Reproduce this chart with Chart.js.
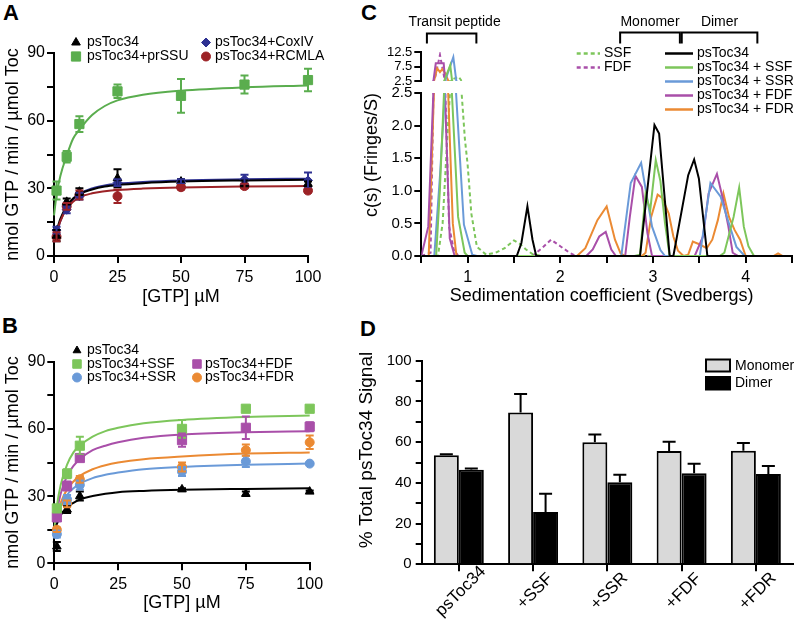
<!DOCTYPE html>
<html><head><meta charset="utf-8">
<script src="https://cdn.jsdelivr.net/npm/chart.js@4.4.1/dist/chart.umd.min.js"></script>
<style>
html,body{margin:0;padding:0;background:#fff;}
body{width:797px;height:633px;position:relative;overflow:hidden;font-family:"Liberation Sans",Arial,sans-serif;}
canvas{position:absolute;display:block;}
.pl{position:absolute;font-weight:bold;font-size:22px;line-height:22px;color:#000;}
</style></head><body>
<div class="pl" style="left:3px;top:2px">A</div>
<div class="pl" style="left:2px;top:315px">B</div>
<div class="pl" style="left:361px;top:2px">C</div>
<div class="pl" style="left:360px;top:318px">D</div>
<canvas id="cA" width="330" height="312" style="left:0;top:0"></canvas>
<canvas id="cB" width="330" height="318" style="left:0;top:300px"></canvas>
<canvas id="cClo" width="437" height="312" style="left:360px;top:0"></canvas>
<canvas id="cCup" width="437" height="120" style="left:360px;top:0"></canvas>
<canvas id="cD" width="442" height="313" style="left:355px;top:320px"></canvas>
<script>
// ---------------- DATA ----------------
// Panels A & B: GTP concentrations (µM) of measured points and of read fit-curve points
const gtpA = [1, 5, 10, 25, 50, 75, 100];
const gtpB = [1, 5, 10, 50, 75, 100];
const fitX = [0, 1, 2.5, 5, 7.5, 10, 15, 20, 25, 35, 50, 75, 100];

// Panel A
const A_toc34 = [9, 24, 28.5, 34.5, 33, 32, 32];
const A_toc34Err = [2.5, 1.5, 1.5, 4, 1, 1.5, 1];
const A_prSSU = [29, 44, 58.5, 73, 71, 76, 78];
const A_prSSUErr = [4, 2.5, 3.5, 3, 7.5, 4, 5];
const A_coxIV = [11.5, 20.5, 26.5, 32.5, 33, 34, 33.5];
const A_coxIVErr = [1.5, 1.5, 1.5, 1.5, 1, 2, 3.5];
const A_rcmla = [8.5, 22, 27, 26.5, 30.5, 31, 29];
const A_rcmlaErr = [2, 1.5, 2, 3, 1, 1, 0.8];
const A_toc34Fit = [7, 11, 16.5, 22, 25.5, 27.5, 29.5, 30.8, 31.5, 32.3, 33, 33.5, 33.8];
const A_prSSUFit = [18, 27, 35.5, 44.5, 52, 56, 62.5, 66.5, 69, 71.5, 73.3, 74.8, 75.6];
const A_coxIVFit = [6, 10, 15.5, 21.5, 25, 27.5, 30, 31.3, 32, 32.8, 33.5, 34, 34.3];
const A_rcmlaFit = [6, 10, 15.5, 21, 24, 26, 27.8, 28.7, 29.3, 29.9, 30.4, 30.8, 31];

// Panel B
const B_toc34 = [7.5, 24, 30, 33, 31, 32];
const B_toc34Err = [2, 1.5, 2, 0.5, 1, 0.5];
const B_ssf = [24.5, 40, 52.5, 60, 69, 69];
const B_ssfErr = [1.5, 2, 4, 4, 0.5, 0.5];
const B_ssr = [13, 28.5, 35, 41, 45.5, 44.5];
const B_ssrErr = [1.5, 2, 2, 2, 2.5, 0.5];
const B_fdf = [20.5, 34.5, 47, 55, 60.5, 61];
const B_fdfErr = [1, 2, 1, 3, 5, 2];
const B_fdr = [15, 26.5, 37.5, 43, 50.5, 54];
const B_fdrErr = [1, 1.5, 1.5, 2, 2.5, 3];
const B_toc34Fit = [14, 17.5, 21.5, 25, 27, 28.5, 30, 31, 31.7, 32.3, 32.8, 33.2, 33.5];
const B_ssfFit = [15, 25.5, 35, 44, 49.5, 52.5, 56.5, 59, 60.5, 62.5, 64, 65.3, 66];
const B_ssrFit = [15, 20, 25.3, 30.5, 33.5, 35.5, 38, 39.5, 40.5, 42, 43, 44, 44.5];
const B_fdfFit = [15, 23, 31, 39, 43.5, 46.5, 50.5, 52.5, 54, 56, 57.5, 58.5, 59];
const B_fdrFit = [15, 21, 27, 33, 36.5, 39, 42, 43.8, 45, 46.5, 47.7, 49, 49.5];

// Panel C: c(s) distributions, s in Svedbergs
const C_ssfS = [0.5, 0.68, 0.73, 0.78, 0.83, 0.9, 0.93, 0.97, 1.0, 1.04, 1.1, 1.2, 1.3, 1.4, 1.5, 1.57, 1.63, 1.7, 1.8, 4.5];
const C_ssfC = [0, 0, 0.5, 1.8, 3.0, 4.0, 2.6, 1.8, 1.4, 0.65, 0.14, 0.02, 0.05, 0.12, 0.24, 0.18, 0.1, 0.03, 0, 0];
const C_fdfS = [0.5, 0.6, 0.65, 0.7, 0.75, 0.8, 0.85, 0.9, 1.7, 1.8, 1.9, 2.0, 2.1, 2.17, 4.5];
const C_fdfC = [0, 0.05, 4, 11.5, 3, 0.45, 0.1, 0, 0, 0.12, 0.25, 0.15, 0.05, 0, 0];
const C_tocS = [0.5, 1.53, 1.58, 1.645, 1.7, 1.74, 2.86, 3.016, 3.066, 3.18, 3.22, 3.38, 3.444, 3.495, 3.587, 4.5];
const C_tocC = [0, 0, 0.2, 0.76, 0.25, 0, 0, 2.01, 1.88, 0, 0, 1.24, 1.48, 1.19, 0, 0];
const C_tocSsfS = [0.5, 0.66, 0.7, 0.745, 0.81, 0.83, 0.897, 0.968, 1.0, 2.8, 2.86, 2.92, 2.97, 3.03, 3.08, 3.13, 3.18, 3.72, 3.77, 3.87, 3.93, 3.98, 4.03, 4.09, 4.5];
const C_tocSsfC = [0, 0, 1.0, 2.5, 8.0, 2.5, 0.6, 0.05, 0, 0, 0.02, 0.95, 0.7, 1.47, 1.15, 0.5, 0, 0, 0.05, 0.6, 1.05, 0.45, 0.15, 0, 0];
const C_tocSsrS = [0.5, 0.64, 0.7, 0.755, 0.843, 0.875, 0.96, 1.05, 1.1, 2.658, 2.76, 2.872, 2.99, 3.08, 3.13, 3.505, 3.62, 3.73, 3.83, 3.9, 3.99, 4.5];
const C_tocSsrC = [0, 0, 1.2, 2.5, 10.7, 2.5, 0.48, 0.02, 0, 0, 1.12, 1.43, 0.45, 0.09, 0, 0, 1.12, 0.91, 0.45, 0.14, 0, 0];
const C_tocFdfS = [0.5, 0.575, 0.63, 0.655, 0.74, 0.755, 0.807, 0.86, 2.28, 2.35, 2.42, 2.49, 2.55, 2.6, 2.7, 2.75, 2.81, 2.88, 2.94, 2.99, 3.45, 3.54, 3.6, 3.69, 3.75, 3.81, 3.86, 3.92, 4.5];
const C_tocFdfC = [0, 0.45, 2.5, 8.6, 8.6, 2.5, 0.27, 0, 0, 0.1, 0.3, 0.37, 0.1, 0, 0, 0.6, 1.23, 1.06, 0.35, 0, 0, 0.3, 0.96, 1.26, 0.9, 0.48, 0.05, 0, 0];
const C_tocFdrS = [0.5, 0.58, 0.636, 0.67, 0.7, 0.725, 0.76, 0.79, 0.84, 0.88, 2.18, 2.27, 2.4, 2.5, 2.59, 2.65, 2.7, 2.88, 2.92, 2.98, 3.05, 3.1, 3.17, 3.22, 3.27, 3.33, 3.38, 3.43, 3.5, 3.58, 3.64, 3.7, 3.76, 3.82, 3.88, 3.94, 4.0, 4.3, 4.35, 4.4, 4.5];
const C_tocFdrC = [0, 0, 2.5, 6.9, 5.6, 6.6, 5.0, 2.5, 0.5, 0, 0, 0.12, 0.55, 0.76, 0.25, 0.04, 0, 0, 0.05, 0.6, 0.94, 0.89, 0.65, 0.3, 0.08, 0, 0.02, 0.22, 0.18, 0.12, 0.25, 0.55, 0.96, 0.6, 0.4, 0.25, 0, 0, 0.04, 0, 0];
const C_brackets = [[0.56, 1.09], [2.63, 3.27], [3.29, 4.1]];
const C_bracketLabels = ['Transit peptide', 'Monomer', 'Dimer'];

// Panel D
const D_cats = ['psToc34', '+SSF', '+SSR', '+FDF', '+FDR'];
const D_mono = [53.5, 74.6, 59.9, 55.6, 55.8];
const D_monoErr = [0.5, 9, 3.8, 4.6, 3.8];
const D_dimer = [46.5, 25.7, 40.3, 44.7, 44.4];
const D_dimerErr = [0.5, 9, 3.7, 4.7, 3.9];

// ---------------- STYLE / HELPERS ----------------
const FONT = '"Liberation Sans", Arial, sans-serif';
Chart.defaults.font.family = FONT;
Chart.defaults.color = '#000';
Chart.defaults.animation = false;

const col = {
  black: '#000000',
  aGreen: '#5aad4e', aBlue: '#2e3192', aRed: '#9c2226',
  green: '#7dc65b', blue: '#6a9ad8', purple: '#a94fa9', orange: '#eb8a33'
};

function xy(xs, ys) { return xs.map((x, i) => ({x: x, y: ys[i]})); }
function curveDs(xs, ys, color) {
  return {data: xy(xs, ys), showLine: true, borderColor: color, borderWidth: 2, pointRadius: 0,
          cubicInterpolationMode: 'monotone', fill: false, order: 2, clip: false};
}
function ptsDs(xs, ys, err, color, style, r) {
  return {data: xy(xs, ys), err: err, showLine: false, borderColor: color, backgroundColor: color,
          pointBackgroundColor: color, pointBorderColor: color, pointStyle: style, pointRadius: r,
          pointBorderWidth: 1, order: 1, clip: false, capHalf: 4};
}
function sDs(xs, ys, color, dash) {
  return {data: xy(xs, ys), showLine: true, borderColor: color, borderWidth: 2, pointRadius: 0,
          tension: 0, borderDash: dash || [], fill: false};
}
function linAxis(o) {
  return Object.assign({
    type: 'linear',
    grid: {drawOnChartArea: false, color: '#000', lineWidth: 2, tickLength: 7},
    border: {display: true, color: '#000', width: 2}
  }, o);
}

const errPlugin = {
  id: 'errbars',
  afterDatasetsDraw(chart) {
    const ctx = chart.ctx;
    chart.data.datasets.forEach((ds, i) => {
      if (!ds.err) return;
      const meta = chart.getDatasetMeta(i);
      const ys = chart.scales[meta.yAxisID];
      ctx.save();
      ctx.strokeStyle = ds.borderColor;
      ctx.lineWidth = 2;
      meta.data.forEach((el, j) => {
        const raw = ds.data[j];
        const v = (typeof raw === 'object') ? raw.y : raw;
        const e = ds.err[j];
        const top = ys.getPixelForValue(v + e);
        const bot = ds.errUpOnly ? ys.getPixelForValue(v) : ys.getPixelForValue(v - e);
        const cw = ds.capHalf || 4;
        ctx.beginPath();
        ctx.moveTo(el.x, bot); ctx.lineTo(el.x, top);
        ctx.moveTo(el.x - cw, top); ctx.lineTo(el.x + cw, top);
        if (!ds.errUpOnly) { ctx.moveTo(el.x - cw, bot); ctx.lineTo(el.x + cw, bot); }
        ctx.stroke();
      });
      ctx.restore();
    });
  }
};

function text(ctx, t, x, y, size, align, rot, weight) {
  ctx.save();
  ctx.font = (weight || '') + ' ' + size + 'px ' + FONT;
  ctx.fillStyle = '#000';
  ctx.textAlign = align || 'left';
  ctx.textBaseline = 'middle';
  ctx.translate(x, y);
  if (rot) ctx.rotate(rot);
  ctx.fillText(t, 0, 0);
  ctx.restore();
}
function marker(ctx, style, r, color, x, y) {
  ctx.save();
  ctx.fillStyle = color; ctx.strokeStyle = color; ctx.lineWidth = 1;
  Chart.helpers.drawPoint(ctx, {pointStyle: style, radius: r, rotation: 0, borderWidth: 1}, x, y);
  ctx.restore();
}
function legendPlugin(items) {
  return {id: 'lg', afterDraw(chart) {
    const ctx = chart.ctx;
    items.forEach(it => {
      if (it.marker) marker(ctx, it.marker, it.r, it.color, it.mx, it.y);
      if (it.line) {
        ctx.save(); ctx.strokeStyle = it.color; ctx.lineWidth = 2.5; ctx.setLineDash(it.dash || []);
        ctx.beginPath(); ctx.moveTo(it.line[0], it.y); ctx.lineTo(it.line[1], it.y); ctx.stroke(); ctx.restore();
      }
      text(ctx, it.text, it.tx, it.y, 14);
    });
  }};
}

function kineticOptions(padTop, padRight, xH, yW) {
  return {
    responsive: false, animation: false, events: [],
    layout: {padding: {top: padTop, right: padRight, left: 0, bottom: 0}},
    plugins: {legend: {display: false}, tooltip: {enabled: false}},
    scales: {
      x: linAxis({min: 0, max: 100,
        ticks: {stepSize: 25, font: {size: 16}, padding: 5, autoSkip: false, maxRotation: 0},
        title: {display: true, text: '[GTP] µM', font: {size: 18}, padding: {top: 0, bottom: 4}},
        afterFit: s => { s.height = xH; }}),
      y: linAxis({min: 0, max: 90,
        ticks: {stepSize: 15, font: {size: 16}, padding: 2, autoSkip: false,
                callback: v => (v % 30 === 0 ? String(v) : '')},
        title: {display: true, text: 'nmol GTP / min / µmol Toc', font: {size: 18}, padding: {top: 2, bottom: 0}},
        afterFit: s => { s.width = yW; }})
    }
  };
}

// ---------------- PANEL A ----------------
new Chart(document.getElementById('cA'), {
  type: 'line',
  data: {datasets: [
    ptsDs(gtpA, A_toc34, A_toc34Err, col.black, 'triangle', 5),
    ptsDs(gtpA, A_prSSU, A_prSSUErr, col.aGreen, 'rect', 6.5),
    ptsDs(gtpA, A_coxIV, A_coxIVErr, col.aBlue, 'rectRot', 4.5),
    ptsDs(gtpA, A_rcmla, A_rcmlaErr, col.aRed, 'circle', 4.5),
    curveDs(fitX, A_prSSUFit, col.aGreen),
    curveDs(fitX, A_rcmlaFit, col.aRed),
    curveDs(fitX, A_toc34Fit, col.black),
    curveDs(fitX, A_coxIVFit, col.aBlue)
  ]},
  options: kineticOptions(53, 22, 56, 54),
  plugins: [errPlugin, legendPlugin([
    {marker: 'triangle', r: 5, color: col.black, mx: 76, tx: 87, y: 42.5, text: 'psToc34'},
    {marker: 'rect', r: 6.5, color: col.aGreen, mx: 76, tx: 87, y: 56.5, text: 'psToc34+prSSU'},
    {marker: 'rectRot', r: 4.5, color: col.aBlue, mx: 206, tx: 215, y: 42.5, text: 'psToc34+CoxIV'},
    {marker: 'circle', r: 4.5, color: col.aRed, mx: 206, tx: 215, y: 56.5, text: 'psToc34+RCMLA'}
  ])]
});

// ---------------- PANEL B ----------------
new Chart(document.getElementById('cB'), {
  type: 'line',
  data: {datasets: [
    ptsDs(gtpB, B_toc34, B_toc34Err, col.black, 'triangle', 5),
    ptsDs(gtpB, B_ssf, B_ssfErr, col.green, 'rect', 6.5),
    ptsDs(gtpB, B_ssr, B_ssrErr, col.blue, 'circle', 4.5),
    ptsDs(gtpB, B_fdf, B_fdfErr, col.purple, 'rect', 6.5),
    ptsDs(gtpB, B_fdr, B_fdrErr, col.orange, 'circle', 4.5),
    curveDs(fitX, B_toc34Fit, col.black),
    curveDs(fitX, B_ssfFit, col.green),
    curveDs(fitX, B_ssrFit, col.blue),
    curveDs(fitX, B_fdfFit, col.purple),
    curveDs(fitX, B_fdrFit, col.orange)
  ]},
  options: kineticOptions(61.7, 20.3, 54.7, 54.3),
  plugins: [errPlugin, legendPlugin([
    {marker: 'triangle', r: 4.5, color: col.black, mx: 77, tx: 87, y: 50.5, text: 'psToc34'},
    {marker: 'rect', r: 6, color: col.green, mx: 77, tx: 87, y: 64, text: 'psToc34+SSF'},
    {marker: 'circle', r: 4.5, color: col.blue, mx: 77, tx: 87, y: 77.5, text: 'psToc34+SSR'},
    {marker: 'rect', r: 6, color: col.purple, mx: 197, tx: 205, y: 64, text: 'psToc34+FDF'},
    {marker: 'circle', r: 4.5, color: col.orange, mx: 197, tx: 205, y: 77.5, text: 'psToc34+FDR'}
  ])]
});

// ---------------- PANEL C ----------------
function cDatasets() {
  return [
    sDs(C_tocS, C_tocC, col.black),
    sDs(C_tocSsfS, C_tocSsfC, col.green),
    sDs(C_tocSsrS, C_tocSsrC, col.blue),
    sDs(C_tocFdfS, C_tocFdfC, col.purple),
    sDs(C_tocFdrS, C_tocFdrC, col.orange),
    sDs(C_ssfS, C_ssfC, col.green, [4, 3]),
    sDs(C_fdfS, C_fdfC, col.purple, [4, 3])
  ];
}
const C_W = 61.3;
// lower (0 - 2.5)
new Chart(document.getElementById('cClo'), {
  type: 'line',
  data: {datasets: cDatasets()},
  options: {
    responsive: false, animation: false, events: [],
    layout: {padding: {top: 93, right: 2.3, left: 0, bottom: 0}},
    plugins: {legend: {display: false}, tooltip: {enabled: false}},
    scales: {
      x: linAxis({min: 0.5, max: 4.5,
        ticks: {stepSize: 0.5, font: {size: 16}, padding: 5, autoSkip: false, maxRotation: 0,
                callback: v => (Number.isInteger(v) ? String(v) : '')},
        afterFit: s => { s.height = 56; }}),
      y: linAxis({min: 0, max: 2.5,
        ticks: {stepSize: 0.5, font: {size: 15}, padding: 2, autoSkip: false, callback: v => v.toFixed(1)},
        afterFit: s => { s.width = C_W; }})
    }
  },
  plugins: [{id: 'ctitles', afterDraw(chart) {
    const ctx = chart.ctx;
    text(ctx, 'c(s) (Fringes/S)', 12, 155, 18, 'center', -Math.PI / 2);
    text(ctx, 'Sedimentation coefficient (Svedbergs)', 241.7, 296, 18, 'center');
  }}]
});
// upper (2.5 - 12.5)
new Chart(document.getElementById('cCup'), {
  type: 'line',
  data: {datasets: cDatasets().map(d => Object.assign(d, {clip: 0}))},
  options: {
    responsive: false, animation: false, events: [],
    layout: {padding: {top: 52, right: 2.3, left: 0, bottom: 39}},
    plugins: {legend: {display: false}, tooltip: {enabled: false}},
    scales: {
      x: {type: 'linear', min: 0.5, max: 4.5, display: false},
      y: linAxis({min: 2.5, max: 12.5,
        ticks: {stepSize: 5, font: {size: 13}, padding: 2, autoSkip: false},
        afterFit: s => { s.width = C_W; }})
    }
  },
  plugins: [
    {id: 'brackets', afterDraw(chart) {
      const ctx = chart.ctx, xs = chart.scales.x;
      ctx.save(); ctx.strokeStyle = '#000'; ctx.lineWidth = 2;
      C_brackets.forEach((b, i) => {
        const x0 = xs.getPixelForValue(b[0]), x1 = xs.getPixelForValue(b[1]);
        const top = i === 0 ? 33.5 : 32.5;
        ctx.beginPath();
        ctx.moveTo(x0, 43.5); ctx.lineTo(x0, top); ctx.lineTo(x1, top); ctx.lineTo(x1, 43.5);
        ctx.stroke();
        text(ctx, C_bracketLabels[i], (x0 + x1) / 2 + (i === 0 ? 3 : 0), 22, 14, 'center');
      });
      ctx.restore();
    }},
    legendPlugin([
      {line: [216.7, 240], dash: [4, 3], color: col.green, tx: 244, y: 53.5, text: 'SSF'},
      {line: [216.7, 240], dash: [4, 3], color: col.purple, tx: 244, y: 67.5, text: 'FDF'},
      {line: [305, 333], color: col.black, tx: 337, y: 53.5, text: 'psToc34'},
      {line: [305, 333], color: col.green, tx: 337, y: 67.5, text: 'psToc34 + SSF'},
      {line: [305, 333], color: col.blue, tx: 337, y: 81.5, text: 'psToc34 + SSR'},
      {line: [305, 333], color: col.purple, tx: 337, y: 95.5, text: 'psToc34 + FDF'},
      {line: [305, 333], color: col.orange, tx: 337, y: 109.5, text: 'psToc34 + FDR'}
    ])
  ]
});

// ---------------- PANEL D ----------------
new Chart(document.getElementById('cD'), {
  type: 'bar',
  data: {labels: D_cats, datasets: [
    {label: 'Monomer', data: D_mono, err: D_monoErr, errUpOnly: true, capHalf: 6.5,
     backgroundColor: '#d9d9d9', borderColor: '#000', borderWidth: 2},
    {label: 'Dimer', data: D_dimer, err: D_dimerErr, errUpOnly: true, capHalf: 6.5,
     backgroundColor: '#000', borderColor: '#000', borderWidth: 2}
  ]},
  options: {
    responsive: false, animation: false, events: [],
    layout: {padding: {top: 40.7, right: 4, left: 0, bottom: 0}},
    datasets: {bar: {categoryPercentage: 0.673, barPercentage: 1}},
    plugins: {legend: {display: false}, tooltip: {enabled: false}},
    scales: {
      x: {grid: {offset: false, drawOnChartArea: false, color: '#000', lineWidth: 2, tickLength: 7},
          border: {display: true, color: '#000', width: 2},
          ticks: {display: false},
          afterFit: s => { s.height = 68.7; }},
      y: linAxis({min: 0, max: 100,
        ticks: {stepSize: 10, font: {size: 15}, padding: 4, autoSkip: false,
                callback: v => (v % 20 === 0 ? String(v) : '')},
        grid: {drawOnChartArea: false, color: '#000', lineWidth: 2, tickLength: 6},
        afterFit: s => { s.width = 66.7; }})
    }
  },
  plugins: [errPlugin, {id: 'dDeco', afterDraw(chart) {
    const ctx = chart.ctx, xs = chart.scales.x, b = chart.chartArea.bottom;
    D_cats.forEach((c, i) => {
      const x = xs.getPixelForTick(i);
      text(ctx, c, x + 2, b + 27, 17, 'center', -Math.PI / 4);
    });
    text(ctx, '% Total psToc34 Signal', 12, 130, 19, 'center', -Math.PI / 2);
    ctx.save();
    ctx.lineWidth = 2; ctx.strokeStyle = '#000';
    ctx.fillStyle = '#d9d9d9'; ctx.fillRect(351, 39.5, 24, 12); ctx.strokeRect(351, 39.5, 24, 12);
    ctx.fillStyle = '#000'; ctx.fillRect(351, 57, 24, 12.5); ctx.strokeRect(351, 57, 24, 12.5);
    ctx.restore();
    text(ctx, 'Monomer', 380, 46, 14);
    text(ctx, 'Dimer', 380, 63.5, 14);
  }}]
});
</script>
</body></html>
